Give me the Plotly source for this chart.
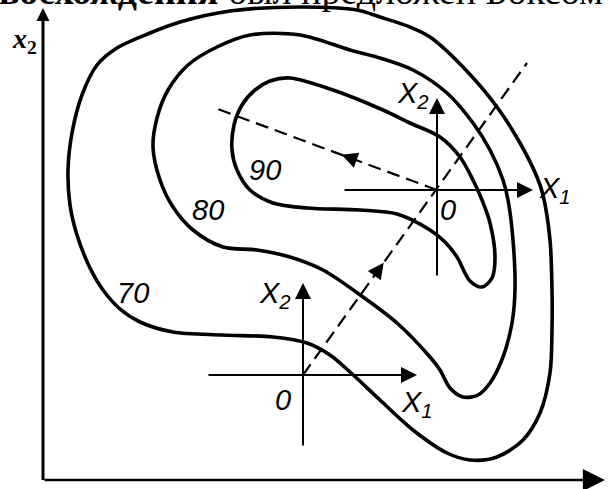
import plotly.graph_objects as go

# contour levels of the response surface (kidney-shaped lines)
levels = [70, 80, 90]

c70_x = [314, 257, 187, 137, 107, 74, 54, 39, 29, 25, 27, 34, 47, 60, 77, 97, 130, 180, 230, 264, 287,
         307, 337, 370, 404, 427, 454, 480, 497, 507, 509, 509, 507, 500, 494, 477, 454, 420, 387, 367, 337, 314]
c70_y = [470, 473, 469, 458, 447, 432, 415, 385, 347, 310, 275, 245, 212, 190, 171, 158, 148, 145, 143, 137, 125,
         108, 80, 50, 27, 20, 23, 40, 67, 107, 150, 190, 240, 285, 303, 337, 373, 413, 443, 453, 463, 470]

c80_x = [174, 207, 257, 307, 337, 370, 404, 430, 447, 460, 465, 470, 472, 469, 460, 447, 435, 420, 407, 397,
         387, 354, 320, 280, 247, 214, 180, 150, 130, 117, 110, 114, 125, 145, 174]
c80_y = [433, 445, 445, 430, 422, 410, 387, 357, 330, 300, 280, 240, 190, 157, 123, 97, 85, 83, 92, 110,
         123, 157, 183, 210, 223, 230, 233, 250, 273, 300, 333, 362, 390, 415, 433]

c90_x = [247, 290, 340, 367, 397, 417, 430, 439, 447, 452, 449, 439, 427, 414, 402, 387, 354, 317, 264, 230,
         207, 194, 189, 191, 199, 212, 227, 247]
c90_y = [402, 390, 370, 357, 343, 323, 300, 280, 257, 223, 202, 193, 199, 223, 238, 250, 266, 270, 272, 277,
         290, 310, 330, 355, 375, 390, 399, 402]

# local coordinate frames: origins and extent of the X1 / X2 axes
frame_ox = [260, 394]
frame_oy = [105, 290]
frame_x1_start = [164, 300]
frame_x1_end = [374, 490]
frame_x2_start = [33, 203]
frame_x2_end = [197, 382]

# dashed search directions
steep_x = [260, 484]
steep_y = [105, 417]
shallow_x = [394, 172]
shallow_y = [290, 372]

# texts
label_text = ["X<sub>2</sub>", "X<sub>1</sub>", "0", "X<sub>2</sub>", "X<sub>1</sub>", "0", "90", "80", "70"]
label_x = [370, 512, 405, 232, 374, 240, 222, 165, 90]
label_y = [385, 290, 270, 185, 76, 80, 310, 270, 187]

fig = go.Figure()

for cx, cy in [(c70_x, c70_y), (c80_x, c80_y), (c90_x, c90_y)]:
    fig.add_trace(go.Scatter(x=cx, y=cy, mode="lines",
                             line=dict(color="black", width=3.6, shape="spline", smoothing=0.9),
                             hoverinfo="skip", showlegend=False))

for dx, dy in [(steep_x, steep_y), (shallow_x, shallow_y)]:
    fig.add_trace(go.Scatter(x=dx, y=dy, mode="lines",
                             line=dict(color="black", width=2.2, dash="13px,7px"),
                             hoverinfo="skip", showlegend=False))


def arrow(x0, y0, x1, y1, w=2, size=1.4):
    fig.add_annotation(x=x1, y=y1, ax=x0, ay=y0, xref="x", yref="y", axref="x", ayref="y",
                       text="", showarrow=True, arrowhead=2, arrowsize=size, arrowwidth=w,
                       arrowcolor="black", standoff=0)


# main axes
fig.add_trace(go.Scatter(x=[0, 0], y=[468, 0], mode="lines", line=dict(color="black", width=3),
                         hoverinfo="skip", showlegend=False))
arrow(0, 0, 562, 0, w=2.6, size=1.7)
arrow(0, 460, 0, 472, w=2.6, size=1.0)

# local frames
for i in range(len(frame_ox)):
    arrow(frame_x1_start[i], frame_oy[i], frame_x1_end[i], frame_oy[i], w=2, size=1.6)
    arrow(frame_ox[i], frame_x2_start[i], frame_ox[i], frame_x2_end[i], w=2, size=1.6)


# arrowheads on the dashed directions
def mid_head(xs, ys, t):
    hx = xs[0] + (xs[1] - xs[0]) * t
    hy = ys[0] + (ys[1] - ys[0]) * t
    ln = ((xs[1] - xs[0]) ** 2 + (ys[1] - ys[0]) ** 2) ** 0.5
    ux, uy = (xs[1] - xs[0]) / ln, (ys[1] - ys[0]) / ln
    arrow(hx - ux * 14, hy - uy * 14, hx, hy, w=2, size=1.6)


mid_head(steep_x, steep_y, 0.36)
mid_head(shallow_x, shallow_y, 0.43)

for t, x, y in zip(label_text, label_x, label_y):
    fig.add_annotation(x=x, y=y, xref="x", yref="y", text="<i>" + t + "</i>", showarrow=False,
                       font=dict(family="Liberation Sans Narrow, Liberation Sans, Arial", size=29, color="black"))

fig.add_annotation(x=-19, y=440, xref="x", yref="y", text="<b><i>x</i></b><sub><b>2</b></sub>",
                   showarrow=False, font=dict(family="Liberation Serif, serif", size=28, color="black"))

# cropped line of book text above the figure
fig.add_annotation(x=0, y=1, xref="paper", yref="paper", xanchor="left", yanchor="bottom",
                   xshift=-3, yshift=-14,
                   text="<b>восхождения</b> был предложен Боксом", showarrow=False,
                   font=dict(family="Liberation Serif, Times New Roman, serif", size=38, color="black"))

fig.update_layout(width=609, height=489, margin=dict(l=0, r=0, t=0, b=0),
                  paper_bgcolor="white", plot_bgcolor="white",
                  xaxis=dict(range=[-43, 566], visible=False),
                  yaxis=dict(range=[-9, 480], visible=False))

fig.write_html("out.html", config={"displayModeBar": False},
               post_script="document.body.style.margin='0';")
